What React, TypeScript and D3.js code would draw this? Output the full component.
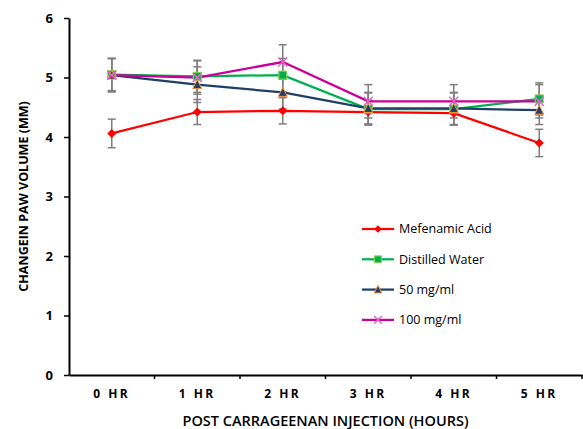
import React, { useEffect, useRef } from 'react';
import * as d3 from 'd3';

// hours after injection
const categories = ['0 HR', '1 HR', '2 HR', '3 HR', '4 HR', '5 HR'];
const yTicks = [0, 1, 2, 3, 4, 5, 6];

const mefenamicAcid = [4.06, 4.42, 4.44, 4.42, 4.40, 3.90];
const mefenamicErr = [0.24, 0.21, 0.22, 0.2, 0.2, 0.23];
const distilledWater = [5.05, 5.02, 5.04, 4.47, 4.47, 4.64];
const distilledErr = [0.27, 0.27, 0.28, 0.27, 0.27, 0.27];
const dose50 = [5.04, 4.88, 4.75, 4.48, 4.48, 4.45];
const dose50Err = [0.28, 0.3, 0.28, 0.27, 0.27, 0.24];
const dose100 = [5.04, 5.0, 5.26, 4.6, 4.6, 4.6];
const dose100Err = [0.28, 0.28, 0.29, 0.28, 0.28, 0.28];

const seriesNames = ['Mefenamic Acid', 'Distilled Water', '50 mg/ml', '100 mg/ml'];

const App = () => {
  const chartRef = useRef<SVGSVGElement>(null);

  useEffect(() => {
    const width = 583;
    const height = 429;
    const margin = { top: 18, right: 1, bottom: 54, left: 69 };

    const svg = d3.select(chartRef.current)
      .attr('width', width)
      .attr('height', height);
    svg.selectAll('*').remove();

    const x = d3.scaleBand()
      .domain(categories)
      .range([margin.left, width - margin.right]);

    const y = d3.scaleLinear()
      .domain([0, 6])
      .range([height - margin.bottom, margin.top]);

    const series = [
      { name: seriesNames[0], values: mefenamicAcid, err: mefenamicErr, color: '#ff0000', marker: 'diamond' },
      { name: seriesNames[1], values: distilledWater, err: distilledErr, color: '#00b050', marker: 'square' },
      { name: seriesNames[2], values: dose50, err: dose50Err, color: '#1f3f64', marker: 'triangle' },
      { name: seriesNames[3], values: dose100, err: dose100Err, color: '#cc0099', marker: 'cross' },
    ];

    const cx = (i: number) => (x(categories[i]) as number) + x.bandwidth() / 2;

    // draw a marker at (px, py)
    const drawMarker = (g: any, kind: string, px: number, py: number, color: string, s = 1) => {
      if (kind === 'diamond') {
        g.append('path')
          .attr('d', `M${px},${py - 4.5 * s}L${px + 4.5 * s},${py}L${px},${py + 4.5 * s}L${px - 4.5 * s},${py}Z`)
          .attr('fill', color);
      } else if (kind === 'square') {
        g.append('rect')
          .attr('x', px - 4 * s).attr('y', py - 4 * s)
          .attr('width', 8 * s).attr('height', 8 * s)
          .attr('fill', color)
          .attr('stroke', '#92d050')
          .attr('stroke-width', 1);
      } else if (kind === 'triangle') {
        g.append('path')
          .attr('d', `M${px},${py - 5 * s}L${px + 4.5 * s},${py + 4 * s}L${px - 4.5 * s},${py + 4 * s}Z`)
          .attr('fill', color)
          .attr('stroke', '#f79646')
          .attr('stroke-width', 1);
      } else {
        g.append('path')
          .attr('d', `M${px - 4.5 * s},${py - 4.5 * s}L${px + 4.5 * s},${py + 4.5 * s}M${px + 4.5 * s},${py - 4.5 * s}L${px - 4.5 * s},${py + 4.5 * s}`)
          .attr('stroke', '#e066cc')
          .attr('stroke-width', 1.5);
      }
    };

    // error bars
    const errG = svg.append('g');
    series.forEach(s => {
      s.values.forEach((v, i) => {
        const px = cx(i);
        errG.append('line')
          .attr('x1', px).attr('x2', px)
          .attr('y1', y(v + s.err[i])).attr('y2', y(v - s.err[i]))
          .attr('stroke', '#7f7f7f').attr('stroke-width', 1.5);
        [v + s.err[i], v - s.err[i]].forEach(e => {
          errG.append('line')
            .attr('x1', px - 4).attr('x2', px + 4)
            .attr('y1', y(e)).attr('y2', y(e))
            .attr('stroke', '#7f7f7f').attr('stroke-width', 1.5);
        });
      });
    });

    // lines + markers
    const line = d3.line<number>()
      .x((_, i) => cx(i))
      .y(d => y(d));

    series.forEach(s => {
      svg.append('path')
        .datum(s.values)
        .attr('d', line)
        .attr('fill', 'none')
        .attr('stroke', s.color)
        .attr('stroke-width', 2.25);
    });
    series.forEach(s => {
      const g = svg.append('g');
      s.values.forEach((v, i) => drawMarker(g, s.marker, cx(i), y(v), s.color));
    });

    // axes
    const yAxis = d3.axisLeft(y)
      .tickValues(yTicks)
      .tickFormat(d3.format('d'))
      .tickSize(5)
      .tickSizeOuter(0)
      .tickPadding(11);
    svg.append('g')
      .attr('transform', `translate(${margin.left}, 0)`)
      .call(yAxis)
      .call(g => g.select('.domain').attr('stroke', '#000').attr('stroke-width', 2))
      .call(g => g.selectAll('.tick line').attr('stroke-width', 1.5))
      .call(g => g.selectAll('.tick text')
        .attr('font-family', 'Open Sans, sans-serif')
        .attr('font-weight', 'bold')
        .attr('font-size', 13)
        .attr('fill', '#000'));

    const xAxis = d3.axisBottom(x).tickSize(0).tickPadding(14);
    const xg = svg.append('g')
      .attr('transform', `translate(0, ${height - margin.bottom})`)
      .call(xAxis)
      .call(g => g.select('.domain').attr('stroke', '#000').attr('stroke-width', 2))
      .call(g => g.selectAll('.tick text')
        .attr('font-family', 'Open Sans, sans-serif')
        .attr('font-weight', 'bold')
        .attr('font-size', 12)
        .attr('letter-spacing', 2.5)
        .attr('fill', '#000'));
    // boundary ticks between categories
    categories.forEach(c => {
      const bx = (x(c) as number) + x.bandwidth();
      xg.append('line')
        .attr('x1', bx).attr('x2', bx)
        .attr('y1', 0).attr('y2', 4)
        .attr('stroke', '#000').attr('stroke-width', 1.5);
    });

    // axis titles
    svg.append('text')
      .attr('transform', `translate(28, ${y(3)}) rotate(-90)`)
      .attr('text-anchor', 'middle')
      .attr('font-family', 'Open Sans, sans-serif')
      .attr('font-weight', 'bold')
      .attr('font-size', 12.5)
      .attr('fill', '#000')
      .text('CHANGEIN PAW VOLUME (MM)');

    svg.append('text')
      .attr('x', (margin.left + width - margin.right) / 2)
      .attr('y', 426)
      .attr('text-anchor', 'middle')
      .attr('font-family', 'Open Sans, sans-serif')
      .attr('font-weight', 600)
      .attr('font-size', 14.5)
      .attr('fill', '#000')
      .text('POST CARRAGEENAN INJECTION (HOURS)');

    // legend
    const legend = svg.append('g').attr('transform', 'translate(362, 229)');
    series.forEach((s, i) => {
      const ly = i * 30.3;
      legend.append('line')
        .attr('x1', 0).attr('x2', 32)
        .attr('y1', ly).attr('y2', ly)
        .attr('stroke', s.color).attr('stroke-width', 2.25);
      const g = legend.append('g');
      drawMarker(g, s.marker, 16, ly, s.color, 0.85);
      legend.append('text')
        .attr('x', 37).attr('y', ly)
        .attr('dy', '0.35em')
        .attr('font-family', 'Open Sans, sans-serif')
        .attr('font-size', 12.5)
        .attr('fill', '#000')
        .text(s.name);
    });
  }, []);

  return (
    <svg ref={chartRef} style={{ position: 'absolute', left: 0, top: 0 }}></svg>
  );
};

export default App;
